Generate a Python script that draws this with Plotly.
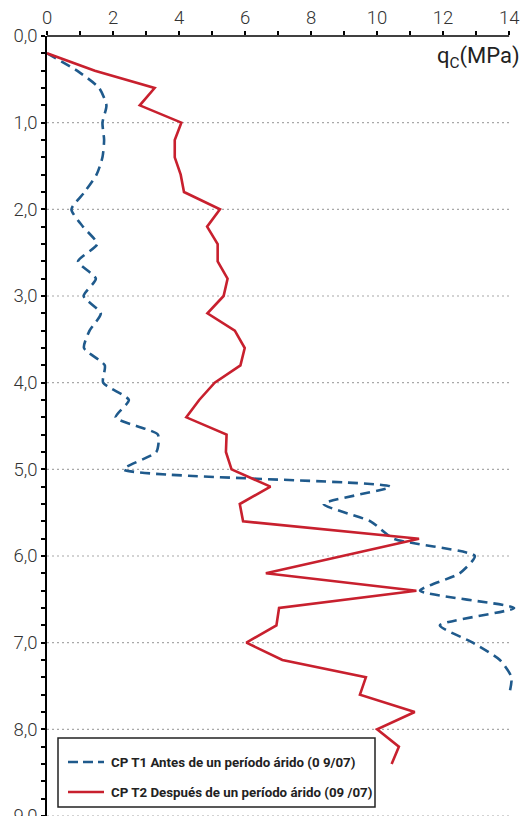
import plotly.graph_objects as go

# Cone penetration profiles: depth (m) vs tip resistance qc (MPa)
depth_t1 = [0.2, 0.4, 0.6, 0.8, 1.0, 1.2, 1.4, 1.6, 1.8, 2.0, 2.2, 2.4, 2.6, 2.8,
            3.0, 3.2, 3.4, 3.6, 3.8, 4.0, 4.2, 4.4, 4.6, 4.8, 5.0, 5.2, 5.4, 5.6,
            5.8, 6.0, 6.2, 6.4, 6.6, 6.8, 7.0, 7.2, 7.4, 7.6]
qc_t1 = [0.0, 0.91, 1.58, 1.80, 1.68, 1.73, 1.68, 1.50, 1.14, 0.74, 1.09, 1.52, 0.94,
         1.48, 1.11, 1.63, 1.29, 1.12, 1.75, 1.70, 2.48, 2.08, 3.36, 3.31, 2.32,
         10.40, 8.38, 9.80, 10.50, 12.96, 12.50, 11.30, 14.15, 11.90, 12.90, 13.72,
         14.07, 14.00]

depth_t2 = [0.2, 0.4, 0.6, 0.8, 1.0, 1.2, 1.4, 1.6, 1.8, 2.0, 2.2, 2.4, 2.6, 2.8,
            3.0, 3.2, 3.4, 3.6, 3.8, 4.0, 4.2, 4.4, 4.6, 4.8, 5.0, 5.2, 5.4, 5.6,
            5.8, 6.2, 6.4, 6.6, 6.8, 7.0, 7.2, 7.4, 7.6, 7.8, 8.0, 8.2, 8.4]
qc_t2 = [0.0, 1.45, 3.26, 2.81, 4.07, 3.87, 3.87, 4.05, 4.15, 5.24, 4.85, 5.17, 5.17,
         5.47, 5.35, 4.86, 5.69, 5.99, 5.86, 5.08, 4.61, 4.22, 5.44, 5.42, 5.59,
         6.77, 5.84, 5.94, 11.27, 6.63, 11.19, 7.03, 6.95, 6.04, 7.13, 9.66, 9.48,
         11.14, 10.00, 10.66, 10.44]

names = ["CP T1 Antes de un período árido (0 9/07)",
         "CP T2 Después de un período árido (09 /07)"]

x_ticks = [0, 2, 4, 6, 8, 10, 12, 14]
x_labels = [str(v) for v in x_ticks]
y_ticks = [0, 1, 2, 3, 4, 5, 6, 7, 8, 9]
y_labels = [f"{v},0" for v in y_ticks]
grid_depths = [1, 2, 3, 4, 5, 6, 7, 8, 9]

X_MAX = 14.45
BLUE = "#1f5a8c"
RED = "#c8202e"
W, H, L, T = 524, 816, 47, 36
PW, PH = W - L, H - T


def px_x(p):
    return (p - L) / PW


def px_y(p):
    return (H - p) / PH


fig = go.Figure()
fig.add_trace(go.Scatter(
    x=qc_t1, y=depth_t1, mode="lines", name=names[0], showlegend=False,
    line=dict(color=BLUE, width=2.6, dash="10px,6px", shape="spline", smoothing=0.6),
))
fig.add_trace(go.Scatter(
    x=qc_t2, y=depth_t2, mode="lines", name=names[1], showlegend=False,
    line=dict(color=RED, width=2.6),
))

shapes = []
# dotted depth grid, ending at qc = 14
for d in grid_depths:
    shapes.append(dict(type="line", xref="x domain", yref="y domain",
                       x0=0, x1=14 / X_MAX, y0=1 - d / 9, y1=1 - d / 9,
                       line=dict(color="#a8a8a8", width=1.2, dash="2px,3px"),
                       layer="below"))
# top qc axis line
shapes.append(dict(type="line", xref="x domain", yref="y domain",
                   x0=0, x1=14 / X_MAX, y0=1, y1=1,
                   line=dict(color="black", width=1.6)))

# legend box with line samples
shapes.append(dict(type="rect", xref="paper", yref="paper",
                   x0=px_x(58), x1=px_x(375), y0=px_y(807), y1=px_y(738),
                   line=dict(color="#222222", width=1.5), fillcolor="white"))
rows = [(762, BLUE, "10px,5px"), (792, RED, "solid")]
annotations = []
for (py, color, dash), label in zip(rows, names):
    shapes.append(dict(type="line", xref="paper", yref="paper",
                       x0=px_x(68), x1=px_x(104), y0=px_y(py), y1=px_y(py),
                       line=dict(color=color, width=2.6, dash=dash)))
    annotations.append(dict(
        text=label, xref="paper", yref="paper", x=px_x(109), y=px_y(py),
        xanchor="left", yanchor="middle", showarrow=False,
        font=dict(family="Roboto", size=13.3, color="#222222", weight="bold"),
    ))

annotations.append(dict(
    text="q<sub>C</sub>(MPa)", xref="paper", yref="paper",
    x=px_x(522), y=px_y(57), xanchor="right", yanchor="middle", showarrow=False,
    font=dict(family="Roboto", size=22, color="#222222"),
))

tick_font = dict(family="Roboto", size=18.5, color="#333333", weight=300)

fig.update_layout(
    width=W, height=H,
    margin=dict(l=L, r=0, t=T, b=0, autoexpand=False),
    paper_bgcolor="white", plot_bgcolor="white",
    shapes=shapes,
    annotations=annotations,
    showlegend=False,
    xaxis=dict(
        side="top", range=[0, X_MAX], tickmode="array",
        tickvals=x_ticks, ticktext=x_labels, automargin=False,
        ticks="outside", ticklen=4, tickwidth=1.5, tickcolor="black",
        minor=dict(tickvals=list(range(0, 15)), ticks="outside", ticklen=4,
                   tickwidth=1.5, tickcolor="black", showgrid=False),
        showline=False, showgrid=False, zeroline=False,
        tickfont=tick_font, ticklabeloverflow="allow",
    ),
    yaxis=dict(
        range=[9, 0], tickmode="array", tickvals=y_ticks, ticktext=y_labels,
        automargin=False,
        ticks="outside", ticklen=4, tickwidth=1.5, tickcolor="black",
        minor=dict(tickvals=[round(i * 0.2, 1) for i in range(46)], ticks="outside",
                   ticklen=4, tickwidth=1.5, tickcolor="black", showgrid=False),
        showline=True, linecolor="black", linewidth=1.6,
        showgrid=False, zeroline=False,
        tickfont=tick_font, ticklabeloverflow="allow",
    ),
)

fig.write_html("out.html")
